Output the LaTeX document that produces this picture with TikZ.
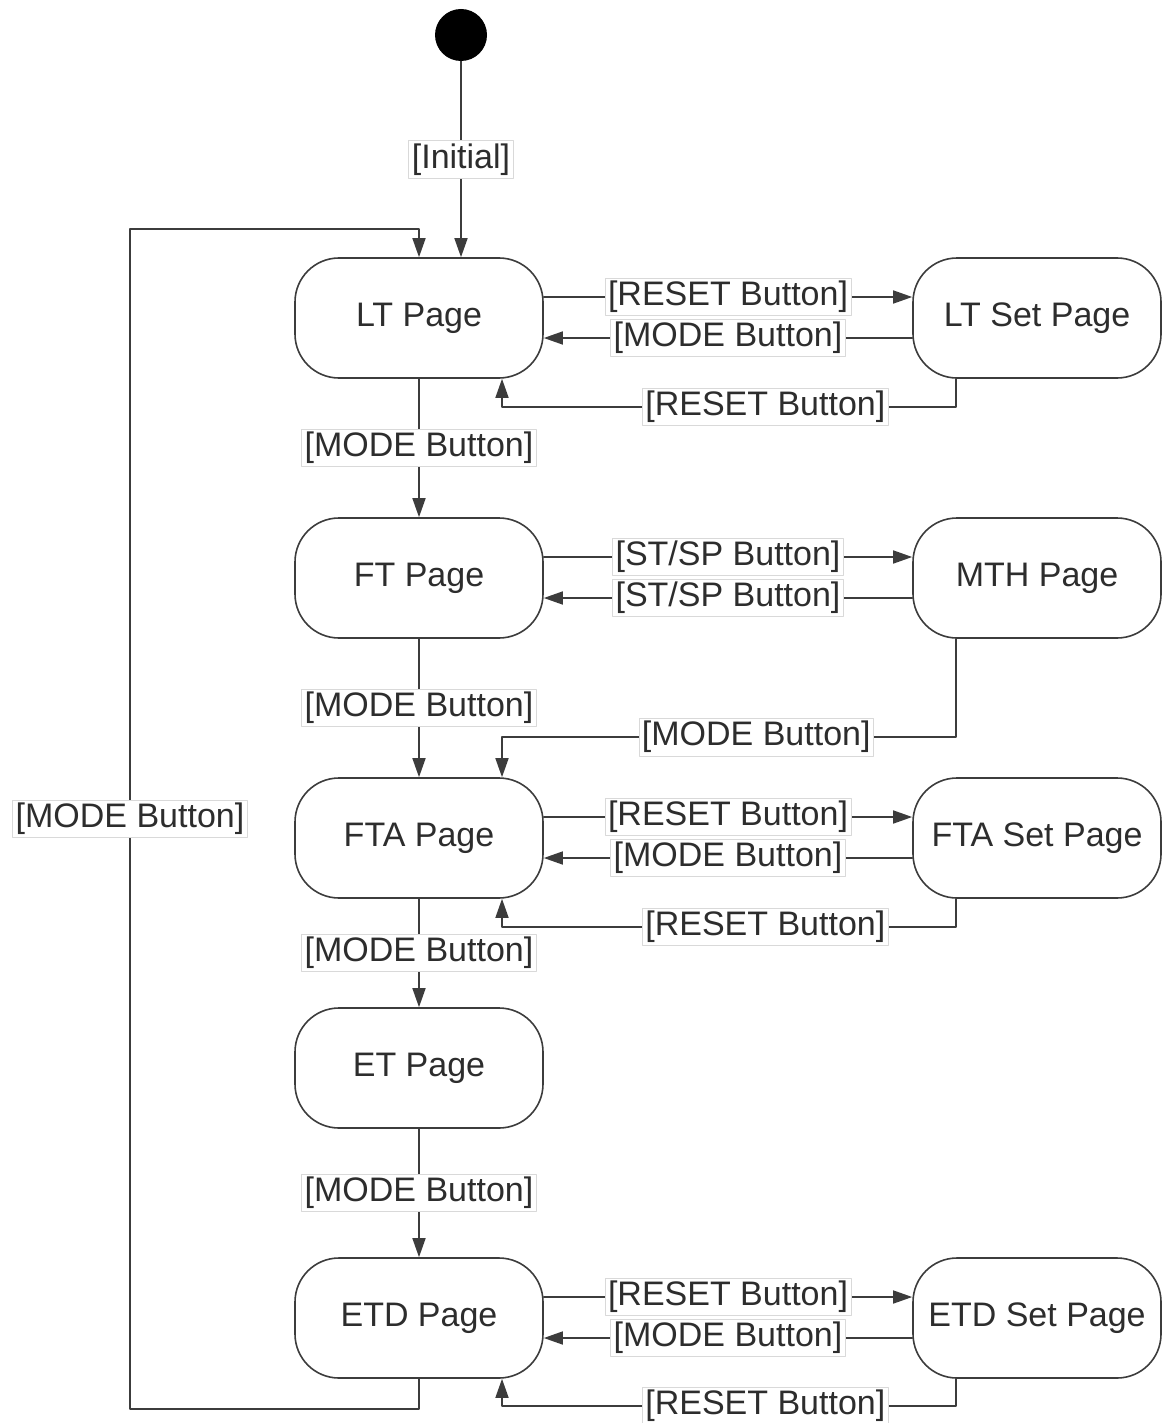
\documentclass[tikz,border=0pt]{standalone}
\usepackage{fontspec}
\setmainfont{Liberation Sans}
\usetikzlibrary{arrows.meta}
\definecolor{linegray}{RGB}{60,60,60}
\definecolor{textgray}{RGB}{45,45,45}
\tikzset{
    state/.style = {draw=linegray, line width=0.8pt, rounded corners=22pt,
        minimum width=124pt, minimum height=60pt, text=textgray,
        font=\fontsize{17}{20}\selectfont},
    lbl/.style = {fill=white, draw=gray!30, line width=0.4pt, inner sep=1.5pt,
        text=textgray, font=\fontsize{17}{20}\selectfont},
    trans/.style = {draw=linegray, line width=0.8pt, -{Triangle[length=9.5pt,width=6.5pt]}}
}

\begin{document}
\begin{tikzpicture}[line cap=round,line join=round,x=0.5pt,y=-0.5pt]
    \useasboundingbox (0,0) rectangle (1161,1423);

    \node[circle, fill=black, minimum size=26pt, inner sep=0pt] (init) at (461,35) {};
    \node[state] (lt) at (419,318) {LT Page};
    \node[state] (ltset) at (1037,318) {LT Set Page};
    \node[state] (ft) at (419,578) {FT Page};
    \node[state] (mth) at (1037,578) {MTH Page};
    \node[state] (fta) at (419,838) {FTA Page};
    \node[state] (ftaset) at (1037,838) {FTA Set Page};
    \node[state] (et) at (419,1068) {ET Page};
    \node[state] (etd) at (419,1318) {ETD Page};
    \node[state] (etdset) at (1037,1318) {ETD Set Page};

    % main chain
    \draw[trans] (init) -- node[lbl]{[Initial]} (lt.north -| init);
    \draw[trans] (lt) -- node[lbl]{[MODE Button]} (ft);
    \draw[trans] (ft) -- node[lbl]{[MODE Button]} (fta);
    \draw[trans] (fta) -- node[lbl]{[MODE Button]} (et);
    \draw[trans] (et) -- node[lbl]{[MODE Button]} (etd);
    \draw[trans] (etd.south) -- ++(0,30) -- ++(-289,0) -- node[lbl]{[MODE Button]} ++(0,-1180) -| (lt.north);

    % LT set page
    \draw[trans] ([yshift=10.5pt]lt.east) -- node[lbl]{[RESET Button]} ([yshift=10.5pt]ltset.west);
    \draw[trans] ([yshift=-10pt]ltset.west) -- node[lbl]{[MODE Button]} ([yshift=-10pt]lt.east);
    \draw[trans] ([xshift=-40.5pt]ltset.south) -- ++(0,28) -| node[lbl, pos=0.21]{[RESET Button]} ([xshift=41.5pt]lt.south);

    % stopwatch
    \draw[trans] ([yshift=10.5pt]ft.east) -- node[lbl]{[ST/SP Button]} ([yshift=10.5pt]mth.west);
    \draw[trans] ([yshift=-10pt]mth.west) -- node[lbl]{[ST/SP Button]} ([yshift=-10pt]ft.east);
    \draw[trans] ([xshift=-40.5pt]mth.south) |- node[lbl, pos=0.72]{[MODE Button]} ([xshift=41.5pt,yshift=20pt]fta.north) -- ([xshift=41.5pt]fta.north);

    % FTA set page
    \draw[trans] ([yshift=10.5pt]fta.east) -- node[lbl]{[RESET Button]} ([yshift=10.5pt]ftaset.west);
    \draw[trans] ([yshift=-10pt]ftaset.west) -- node[lbl]{[MODE Button]} ([yshift=-10pt]fta.east);
    \draw[trans] ([xshift=-40.5pt]ftaset.south) -- ++(0,28) -| node[lbl, pos=0.21]{[RESET Button]} ([xshift=41.5pt]fta.south);

    % ETD set page
    \draw[trans] ([yshift=10.5pt]etd.east) -- node[lbl]{[RESET Button]} ([yshift=10.5pt]etdset.west);
    \draw[trans] ([yshift=-10pt]etdset.west) -- node[lbl]{[MODE Button]} ([yshift=-10pt]etd.east);
    \draw[trans] ([xshift=-40.5pt]etdset.south) -- ++(0,27) -| node[lbl, pos=0.21]{[RESET Button]} ([xshift=41.5pt]etd.south);
\end{tikzpicture}
\end{document}
